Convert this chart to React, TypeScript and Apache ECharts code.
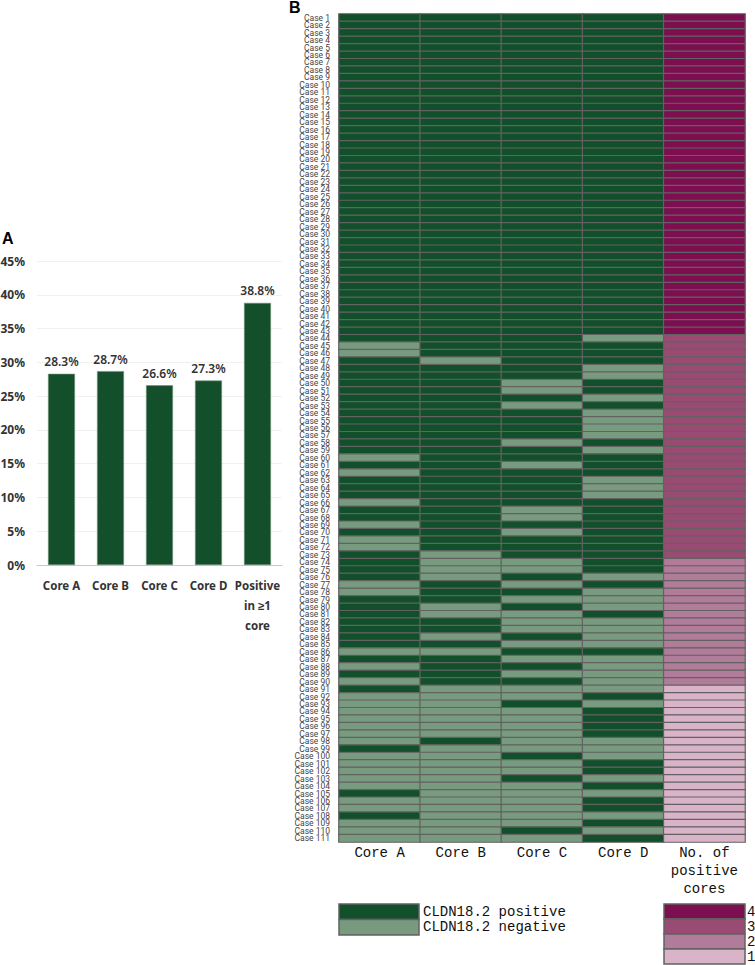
import { useEffect, useRef } from "react";
import * as echarts from "echarts";

// panel A
const barCategories = ["Core A", "Core B", "Core C", "Core D", "Positive\nin ≥1\ncore"];
const barValues = [28.3, 28.7, 26.6, 27.3, 38.8];

// panel B: 1 = CLDN18.2 positive, 0 = negative, one entry per case (Case 1..111)
const coreCols = ["Core A", "Core B", "Core C", "Core D", "No. of\npositive\ncores"];
const coreA = [
  1, 1, 1, 1, 1, 1, 1, 1, 1, 1,
  1, 1, 1, 1, 1, 1, 1, 1, 1, 1,
  1, 1, 1, 1, 1, 1, 1, 1, 1, 1,
  1, 1, 1, 1, 1, 1, 1, 1, 1, 1,
  1, 1, 1, 1, 0, 0, 1, 1, 1, 1,
  1, 1, 1, 1, 1, 1, 1, 1, 1, 0,
  1, 0, 1, 1, 1, 0, 1, 1, 0, 1,
  0, 0, 1, 1, 1, 1, 0, 0, 1, 1,
  1, 1, 1, 1, 1, 0, 1, 0, 1, 0,
  1, 0, 0, 0, 0, 0, 0, 0, 1, 0,
  0, 0, 0, 0, 1, 0, 0, 1, 0, 0, 0,
];
const coreB = [
  1, 1, 1, 1, 1, 1, 1, 1, 1, 1,
  1, 1, 1, 1, 1, 1, 1, 1, 1, 1,
  1, 1, 1, 1, 1, 1, 1, 1, 1, 1,
  1, 1, 1, 1, 1, 1, 1, 1, 1, 1,
  1, 1, 1, 1, 1, 1, 0, 1, 1, 1,
  1, 1, 1, 1, 1, 1, 1, 1, 1, 1,
  1, 1, 1, 1, 1, 1, 1, 1, 1, 1,
  1, 1, 0, 0, 0, 0, 1, 1, 1, 0,
  0, 1, 1, 0, 1, 0, 1, 1, 1, 1,
  0, 0, 0, 0, 0, 0, 0, 1, 0, 0,
  0, 0, 0, 0, 0, 0, 0, 0, 0, 0, 0,
];
const coreC = [
  1, 1, 1, 1, 1, 1, 1, 1, 1, 1,
  1, 1, 1, 1, 1, 1, 1, 1, 1, 1,
  1, 1, 1, 1, 1, 1, 1, 1, 1, 1,
  1, 1, 1, 1, 1, 1, 1, 1, 1, 1,
  1, 1, 1, 1, 1, 1, 1, 1, 1, 0,
  0, 1, 0, 1, 1, 1, 1, 0, 1, 1,
  0, 1, 1, 1, 1, 1, 0, 0, 1, 0,
  1, 1, 1, 0, 0, 1, 0, 1, 0, 1,
  0, 0, 0, 1, 0, 1, 0, 1, 0, 1,
  0, 0, 1, 0, 0, 0, 0, 0, 0, 1,
  0, 0, 1, 0, 0, 0, 0, 0, 0, 1, 0,
];
const coreD = [
  1, 1, 1, 1, 1, 1, 1, 1, 1, 1,
  1, 1, 1, 1, 1, 1, 1, 1, 1, 1,
  1, 1, 1, 1, 1, 1, 1, 1, 1, 1,
  1, 1, 1, 1, 1, 1, 1, 1, 1, 1,
  1, 1, 1, 0, 1, 1, 1, 0, 0, 1,
  1, 0, 1, 0, 0, 0, 0, 1, 0, 1,
  1, 1, 0, 0, 0, 1, 1, 1, 1, 1,
  1, 1, 1, 1, 1, 0, 1, 0, 0, 0,
  1, 0, 0, 0, 0, 1, 0, 0, 0, 0,
  0, 1, 0, 1, 1, 1, 1, 0, 0, 0,
  1, 1, 0, 1, 0, 1, 1, 0, 1, 0, 1,
];

const cores = [coreA, coreB, coreC, coreD];
const cases = coreA.map((_, i) => `Case ${i + 1}`);
const positiveCount = coreA.map((_, i) => cores.reduce((s, c) => s + c[i], 0));

const POS = "#11502b";
const NEG = "#789b7f";
const COUNT_COLORS = ["#d9b4c9", "#b17b9a", "#994b73", "#7d0f50"];
const CELL_BORDER = "#626262";

export default function App() {
  const chartRef = useRef<HTMLDivElement>(null);

  useEffect(() => {
    if (!chartRef.current) return;
    const chart = echarts.init(chartRef.current, null, { renderer: "svg" });

    const coreData: number[][] = [];
    cores.forEach((col, c) => col.forEach((v, i) => coreData.push([c, i, v])));
    const countData = positiveCount.map((v, i) => [4, i, v]);

    const mono = "Liberation Mono, DejaVu Sans Mono, monospace";

    chart.setOption({
      animation: false,
      backgroundColor: "#fff",
      grid: [
        { left: 37, top: 261, width: 245, height: 304, outerBoundsMode: "none" },
        { left: 339, top: 14, width: 406, height: 828, outerBoundsMode: "none" },
      ],
      xAxis: [
        {
          type: "category",
          gridIndex: 0,
          data: barCategories,
          axisTick: { show: false },
          axisLine: { lineStyle: { color: "#c8c8c8", width: 1 } },
          axisLabel: {
            interval: 0,
            margin: 10,
            lineHeight: 20,
            fontSize: 11.5,
            fontWeight: "bold",
            color: "#333",
            fontFamily: "Noto Sans, sans-serif",
          },
        },
        {
          type: "category",
          gridIndex: 1,
          data: coreCols,
          axisTick: { show: false },
          axisLine: { show: false },
          splitLine: { show: false },
          axisLabel: {
            interval: 0,
            margin: 2,
            lineHeight: 18,
            fontSize: 14,
            color: "#111",
            fontFamily: mono,
          },
        },
      ],
      yAxis: [
        {
          type: "value",
          gridIndex: 0,
          min: 0,
          max: 45,
          interval: 5,
          axisLine: { show: false },
          axisTick: { show: false },
          splitLine: { lineStyle: { color: "#f0f0f0", width: 1 } },
          axisLabel: {
            formatter: "{value}%",
            fontSize: 12,
            fontWeight: "bold",
            color: "#333",
            margin: 12,
            fontFamily: "Noto Sans, sans-serif",
          },
        },
        {
          type: "category",
          gridIndex: 1,
          data: cases,
          inverse: true,
          axisLine: { show: false },
          axisTick: { show: false },
          splitLine: { show: false },
          axisLabel: {
            interval: 0,
            margin: 9,
            fontSize: 8.5,
            lineHeight: 7.5,
            color: "#444",
            fontFamily: "Roboto, Liberation Sans, sans-serif",
          },
        },
      ],
      visualMap: [
        {
          type: "piecewise",
          show: false,
          seriesIndex: 1,
          dimension: 2,
          pieces: [
            { value: 1, color: POS },
            { value: 0, color: NEG },
          ],
        },
        {
          type: "piecewise",
          show: false,
          seriesIndex: 2,
          dimension: 2,
          pieces: [1, 2, 3, 4].map((v) => ({ value: v, color: COUNT_COLORS[v - 1] })),
        },
      ],
      series: [
        {
          type: "bar",
          xAxisIndex: 0,
          yAxisIndex: 0,
          data: barValues,
          barWidth: "55%",
          itemStyle: { color: "#134f2a", borderColor: "#6f8f78", borderWidth: 0.6 },
          label: {
            show: true,
            position: "top",
            distance: 6,
            formatter: "{c}%",
            fontSize: 12,
            fontWeight: 600,
            color: "#333",
            fontFamily: "Noto Sans, sans-serif",
          },
        },
        {
          type: "heatmap",
          xAxisIndex: 1,
          yAxisIndex: 1,
          data: coreData,
          itemStyle: { borderColor: CELL_BORDER, borderWidth: 1.2 },
          emphasis: { disabled: true },
        },
        {
          type: "heatmap",
          xAxisIndex: 1,
          yAxisIndex: 1,
          data: countData,
          itemStyle: { borderColor: CELL_BORDER, borderWidth: 1.2 },
          emphasis: { disabled: true },
        },
      ],
      graphic: [
        {
          type: "text",
          left: 2,
          top: 230,
          style: { text: "A", font: "bold 16px Liberation Sans, Arial, sans-serif", fill: "#000" },
        },
        {
          type: "text",
          left: 289,
          top: -1,
          style: { text: "B", font: "bold 16px Liberation Sans, Arial, sans-serif", fill: "#000" },
        },
        // CLDN18.2 legend
        {
          type: "rect",
          shape: { x: 339, y: 904, width: 80, height: 15.5 },
          style: { fill: POS, stroke: CELL_BORDER, lineWidth: 1.5 },
        },
        {
          type: "rect",
          shape: { x: 339, y: 919.5, width: 80, height: 15.5 },
          style: { fill: NEG, stroke: CELL_BORDER, lineWidth: 1.5 },
        },
        {
          type: "text",
          x: 423,
          y: 912,
          style: { text: "CLDN18.2 positive", font: `14px ${mono}`, fill: "#111", verticalAlign: "middle" },
        },
        {
          type: "text",
          x: 423,
          y: 927,
          style: { text: "CLDN18.2 negative", font: `14px ${mono}`, fill: "#111", verticalAlign: "middle" },
        },
        // count legend
        ...[4, 3, 2, 1].flatMap((v, k) => [
          {
            type: "rect",
            shape: { x: 664, y: 904 + k * 15, width: 81, height: 15 },
            style: { fill: COUNT_COLORS[v - 1], stroke: CELL_BORDER, lineWidth: 1.5 },
          },
          {
            type: "text",
            x: 747,
            y: 912 + k * 15,
            style: { text: String(v), font: `14px ${mono}`, fill: "#111", verticalAlign: "middle" },
          },
        ]),
      ],
    });

    return () => {
      chart.dispose();
    };
  }, []);

  return (
    <div
      ref={chartRef}
      style={{ position: "absolute", left: 0, top: 0, width: 755, height: 965 }}
    />
  );
}
